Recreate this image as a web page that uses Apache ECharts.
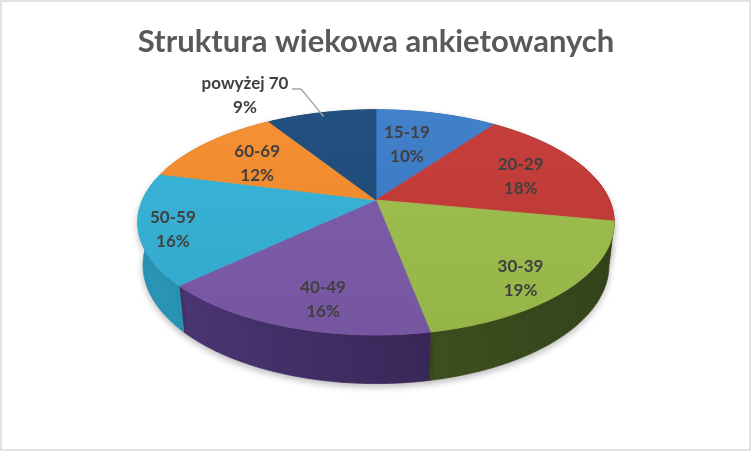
<!DOCTYPE html>
<html>
<head>
<meta charset="utf-8">
<script src="https://cdn.jsdelivr.net/npm/echarts@6/dist/echarts.min.js"></script>
<style>
  html, body { margin: 0; padding: 0; background: #fff; }
  #chart { width: 752px; height: 452px; }
</style>
</head>
<body>
<div id="chart"></div>
<script>
// data
const categories = ['15-19', '20-29', '30-39', '40-49', '50-59', '60-69', 'powyżej 70'];
const shares = [10, 18, 19, 16, 16, 12, 9];

// look of each slice: top face (upper -> lower) and side wall (left -> right shading)
const topColors = [
  ['#4180ca', '#3a74bd'], ['#c63f3c', '#b93634'], ['#a0c052', '#95b548'],
  ['#7f5fab', '#7656a1'], ['#3ab5d9', '#31a8cc'], ['#f59034', '#ea8427'],
  ['#22507f', '#1c4672']
];
const sideColors = [
  ['#2c5a96', '#244b80'], ['#9a2d2b', '#7e2422'], ['#4d6327', '#33441a'],
  ['#4e3878', '#2c1d45'], ['#2a95b6', '#21809e'], ['#c06c1f', '#a55b18'],
  ['#173a5e', '#122f4d']
];
// where the label sits inside a slice (fraction of the radius) plus a nudge in px
const labelRadius = [0.6, 0.68, 0.86, 0.8, 0.86, 0.76, 0.95];
const labelShift = [[-8, 0], [4, 2], [-17, 4], [15, 3], [0, 5], [13, 8], [0, 0]];

// 3d pie camera (excel-like perspective)
const CX = 376, CY = 200, FOCAL = 1040, DIST = 4.455, DEPTH = 0.207;
const TILT = 27.6 * Math.PI / 180;
const total = shares.reduce((a, b) => a + b, 0);

function project(r, a, h) {
  const x = r * Math.sin(a), z = -r * Math.cos(a);
  const yc = h * Math.cos(TILT) - z * Math.sin(TILT);
  const zc = z * Math.cos(TILT) + h * Math.sin(TILT);
  const s = FOCAL / (DIST - zc);
  return [CX + x * s, CY - yc * s];
}

function labelText(txt) {
  return {
    text: txt, fill: '#404040', font: 'bold 17px Lato', lineHeight: 24,
    align: 'center', verticalAlign: 'middle', textAlign: 'center', textVerticalAlign: 'middle'
  };
}

function renderSlice(params, api) {
  const i = params.dataIndex;
  const before = shares.slice(0, i).reduce((a, b) => a + b, 0);
  const a0 = before / total * Math.PI * 2;
  const a1 = (before + api.value(1)) / total * Math.PI * 2;
  const steps = Math.max(2, Math.ceil((a1 - a0) / (Math.PI / 180)));
  const topArc = [], botArc = [];
  for (let k = 0; k <= steps; k++) {
    const a = a0 + (a1 - a0) * k / steps;
    topArc.push(project(1, a, 0));
    botArc.push(project(1, a, -DEPTH));
  }
  const mid = (a0 + a1) / 2;
  const sideFill = {
    type: 'linear', x: 137, y: 0, x2: 613, y2: 0, global: true,
    colorStops: [{ offset: 0, color: sideColors[i][0] }, { offset: 1, color: sideColors[i][1] }]
  };
  const topFill = {
    type: 'linear', x: 0, y: 110, x2: 0, y2: 335, global: true,
    colorStops: [{ offset: 0, color: topColors[i][0] }, { offset: 1, color: topColors[i][1] }]
  };
  const children = [
    {
      type: 'polygon', z2: -Math.cos(mid) > 0 ? 2 : 1,
      shape: { points: topArc.concat(botArc.slice().reverse()) },
      style: {
        fill: sideFill, stroke: sideFill, lineWidth: 0.8,
        shadowBlur: 6, shadowOffsetY: 3, shadowColor: 'rgba(0,0,0,0.25)'
      }
    },
    {
      type: 'polygon', z2: 5,
      shape: { points: [project(0, 0, 0)].concat(topArc) },
      style: { fill: topFill, stroke: topFill, lineWidth: 0.8 }
    }
  ];

  const pct = Math.round(api.value(1) / total * 100) + '%';
  const txt = categories[i] + '\n' + pct;
  if (i === categories.length - 1) {
    // small slice: label outside with a leader line
    const anchor = [245, 96];
    const end = project(labelRadius[i], mid, 0);
    children.push({
      type: 'polyline', z2: 8,
      shape: { points: [[anchor[0] + 47, anchor[1] - 7], [anchor[0] + 56, anchor[1] - 7], end] },
      style: { stroke: '#a6a6a6', lineWidth: 1.3, fill: null }
    });
    children.push({ type: 'text', z2: 9, x: anchor[0], y: anchor[1], style: labelText(txt) });
  } else {
    const p = project(labelRadius[i], mid, 0);
    children.push({
      type: 'text', z2: 9, x: p[0] + labelShift[i][0], y: p[1] + labelShift[i][1],
      style: labelText(txt)
    });
  }
  return { type: 'group', children: children };
}

const chart = echarts.init(document.getElementById('chart'));
chart.setOption({
  animation: false,
  backgroundColor: '#fff',
  title: {
    text: 'Struktura wiekowa ankietowanych',
    left: 'center',
    top: 21,
    textStyle: { fontFamily: 'Lato', fontWeight: 'bold', fontSize: 31, color: '#595959' }
  },
  graphic: [{
    type: 'rect', z: 100,
    shape: { x: 1, y: 1, width: 749, height: 449 },
    style: { fill: null, stroke: '#d9d9d9', lineWidth: 1.5 }
  }],
  series: [{
    type: 'custom',
    coordinateSystem: 'none',
    renderItem: renderSlice,
    data: categories.map((c, i) => ({ name: c, value: [i, shares[i]] }))
  }]
});
</script>
</body>
</html>
